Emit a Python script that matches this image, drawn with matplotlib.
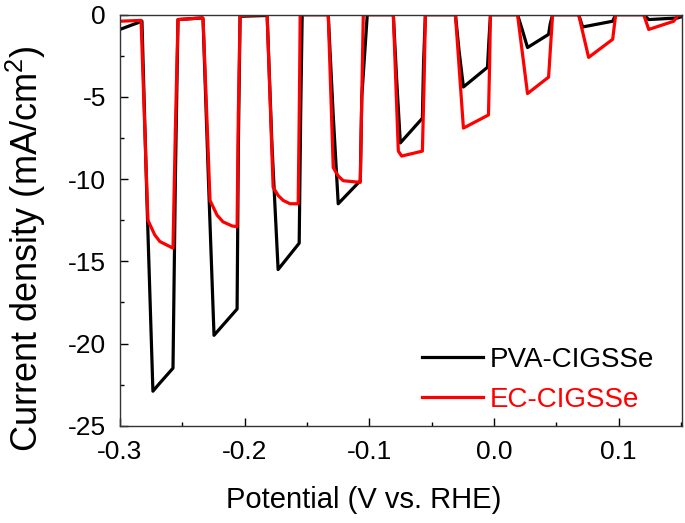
import matplotlib
matplotlib.use("Agg")
import matplotlib.pyplot as plt
from matplotlib.ticker import MultipleLocator

plt.rcParams['font.family'] = ['Liberation Sans', 'DejaVu Sans']
plt.rcParams['mathtext.fontset'] = 'custom'
plt.rcParams['mathtext.rm'] = 'Liberation Sans'
plt.rcParams['mathtext.it'] = 'Liberation Sans'

# chopped-light LSV, potential (V vs. RHE) and current density (mA/cm2)
pva_potential = [-0.300, -0.2823, -0.2783, -0.2735, -0.2679, -0.2574, -0.2555, -0.2534,
                 -0.2341, -0.2333, -0.2290, -0.2245, -0.2060, -0.2050, -0.2036,
                 -0.1819, -0.1780, -0.1731, -0.1562, -0.1550, -0.1538,
                 -0.1329, -0.1290, -0.1249, -0.1072, -0.1060, -0.1016,
                 -0.0807, -0.0780, -0.0751, -0.0574, -0.0565, -0.0550,
                 -0.0309, -0.0280, -0.0245, -0.0052, -0.0040, -0.0028,
                 0.0189, 0.0230, 0.0269, 0.0438, 0.0450, 0.0470,
                 0.0679, 0.0711, 0.0952, 0.0976,
                 0.1201, 0.1241, 0.1474, 0.1514]
pva_current = [-0.9, -0.4, -11.3, -22.9, -22.4, -21.5, -10.0, -0.3,
               -0.2, -0.3, -10.0, -19.5, -17.9, -8.0, -0.1,
               -0.05, -8.0, -15.5, -13.9, -6.0, 0.0,
               0.0, -6.0, -11.5, -10.1, -5.0, 0.0,
               0.0, -4.0, -7.8, -6.3, -3.0, 0.0,
               0.0, -2.2, -4.4, -3.2, -1.5, 0.0,
               0.0, -1.0, -2.0, -1.2, -0.6, 0.0,
               0.0, -0.75, -0.4, 0.0,
               0.0, -0.3, -0.2, -0.1]

ec_potential = [-0.300, -0.2830, -0.2775, -0.2720, -0.2679, -0.2574, -0.2555, -0.2534,
                -0.2341, -0.2333, -0.2277, -0.2220, -0.2173, -0.2100, -0.2060, -0.2050, -0.2036,
                -0.1819, -0.1771, -0.1730, -0.1690, -0.1635, -0.1570, -0.1560, -0.1554,
                -0.1329, -0.1289, -0.1250, -0.1209, -0.1072, -0.1060, -0.1048,
                -0.0807, -0.0767, -0.0740, -0.0574, -0.0560, -0.0550,
                -0.0309, -0.0245, -0.0044, -0.0035, -0.0028,
                0.0189, 0.0269, 0.0438, 0.0455, 0.0470,
                0.0679, 0.0759, 0.0952, 0.0976,
                0.1201, 0.1241, 0.1442, 0.1474, 0.1514]
ec_current = [-0.4, -0.35, -12.5, -13.4, -13.8, -14.2, -7.0, -0.3,
              -0.2, -0.2, -11.3, -12.2, -12.6, -12.85, -12.9, -6.0, -0.05,
              0.0, -10.5, -11.0, -11.3, -11.5, -11.5, -5.0, 0.0,
              0.0, -9.3, -9.8, -10.1, -10.2, -5.0, 0.0,
              0.0, -8.3, -8.6, -8.3, -4.0, 0.0,
              0.0, -6.9, -6.1, -3.0, 0.0,
              0.0, -4.8, -3.8, -1.8, 0.0,
              0.0, -2.6, -1.5, 0.0,
              0.0, -0.9, -0.4, -0.05, 0.0]

labels = ['PVA-CIGSSe', 'EC-CIGSSe']
colors = ['black', '#ff0000']
x_ticks = [-0.3, -0.2, -0.1, 0.0, 0.1]
x_ticklabels = ['-0.3', '-0.2', '-0.1', '0.0', '0.1']
y_ticks = [0, -5, -10, -15, -20, -25]
y_ticklabels = ['0', '-5', '-10', '-15', '-20', '-25']


def plot_lsv():
    fig = plt.figure(figsize=(6.85, 5.23), dpi=100)
    ax = fig.add_axes([0.175, 0.186, 0.821, 0.786])

    ax.plot(pva_potential, pva_current, color=colors[0], lw=2.3, label=labels[0])
    ax.plot(ec_potential, ec_current, color=colors[1], lw=2.3, label=labels[1])

    ax.set_xlim(-0.3, 0.151)
    ax.set_ylim(-25, 0)
    ax.xaxis.set_minor_locator(MultipleLocator(0.05))
    ax.yaxis.set_minor_locator(MultipleLocator(2.5))
    ax.set_xticks(x_ticks)
    ax.set_xticklabels(x_ticklabels)
    ax.set_yticks(y_ticks)
    ax.set_yticklabels(y_ticklabels)

    ax.tick_params(which='both', direction='in', labelsize=19, width=1)
    ax.tick_params(axis='x', pad=10)
    ax.tick_params(axis='y', pad=10)
    ax.tick_params(which='major', length=6)
    ax.tick_params(which='minor', length=3)
    for s in ax.spines.values():
        s.set_linewidth(1.0)
        s.set_color('#333333')

    ax.set_xlabel('Potential (V vs. RHE)', fontsize=21)
    ax.xaxis.set_label_coords(0.434, -0.147)
    ax.set_ylabel('Current density (mA/cm$^2$)', fontsize=26)
    ax.yaxis.set_label_coords(-0.128, 0.43)

    leg = ax.legend(loc='lower right', frameon=False, fontsize=20,
                    handlelength=2.2, handletextpad=0.25, labelspacing=0.5,
                    borderpad=0, borderaxespad=0,
                    bbox_to_anchor=(0.95, 0.032))
    for text, c in zip(leg.get_texts(), colors):
        text.set_color(c)

    fig.savefig('out.png', dpi=100)


def main():
    plot_lsv()


if __name__ == "__main__":
    main()
